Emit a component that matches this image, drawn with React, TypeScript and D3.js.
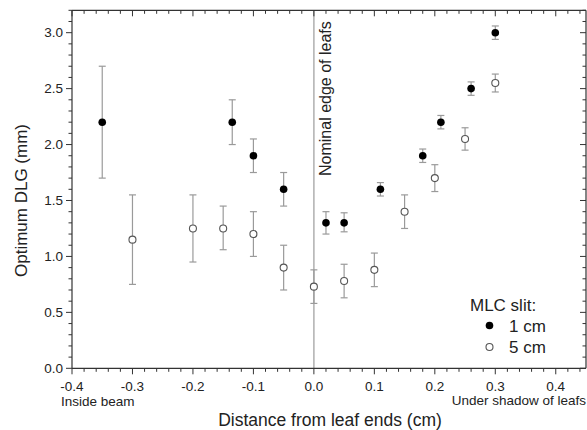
import React from "react";
import * as d3 from "d3";

const xSlit1 = [-0.35, -0.135, -0.1, -0.05, 0.02, 0.05, 0.11, 0.18, 0.21, 0.26, 0.3];
const ySlit1 = [2.2, 2.2, 1.9, 1.6, 1.3, 1.3, 1.6, 1.9, 2.2, 2.5, 3.0];
const loSlit1 = [1.7, 2.0, 1.75, 1.45, 1.2, 1.22, 1.54, 1.84, 2.14, 2.44, 2.94];
const hiSlit1 = [2.7, 2.4, 2.05, 1.75, 1.4, 1.39, 1.66, 1.96, 2.26, 2.56, 3.06];

const xSlit5 = [-0.3, -0.2, -0.15, -0.1, -0.05, 0.0, 0.05, 0.1, 0.15, 0.2, 0.25, 0.3];
const ySlit5 = [1.15, 1.25, 1.25, 1.2, 0.9, 0.73, 0.78, 0.88, 1.4, 1.7, 2.05, 2.55];
const loSlit5 = [0.75, 0.95, 1.06, 1.0, 0.7, 0.58, 0.63, 0.73, 1.25, 1.58, 1.95, 2.47];
const hiSlit5 = [1.55, 1.55, 1.45, 1.4, 1.1, 0.88, 0.93, 1.03, 1.55, 1.82, 2.15, 2.63];

const xTicks = [-0.4, -0.3, -0.2, -0.1, 0.0, 0.1, 0.2, 0.3, 0.4];
const yTicks = [0.0, 0.5, 1.0, 1.5, 2.0, 2.5, 3.0];
const legendLabels = ["1 cm", "5 cm"];

const W = 587;
const H = 430;
const FONT = "'Liberation Sans', Arial, Helvetica, sans-serif";

export default function App() {
  const x = d3.scaleLinear().domain([-0.4, 0.45]).range([72, 586]);
  const y = d3.scaleLinear().domain([0, 3.2]).range([368.3, 10.3]);
  const [x0, x1] = x.range();
  const [yb, yt] = y.range();

  const xMinor = d3.range(-0.4, 0.4501, 0.02).map((v) => Math.round(v * 100) / 100);
  const yMinor = d3.range(0, 3.2001, 0.1).map((v) => Math.round(v * 10) / 10);
  const isMajorX = (v: number) => Math.abs(v * 10 - Math.round(v * 10)) < 1e-6;
  const isMajorY = (v: number) => Math.abs(v * 2 - Math.round(v * 2)) < 1e-6;

  const errColor = "#9a9a9a";
  const axisColor = "#333";
  const cap = 3.5;
  const r = 3.8;

  const errBars = (xs: number[], lo: number[], hi: number[], key: string) =>
    xs.map((xv, i) => (
      <g key={key + i} stroke={errColor} strokeWidth={1.2}>
        <line x1={x(xv)} x2={x(xv)} y1={y(lo[i])} y2={y(hi[i])} />
        <line x1={x(xv) - cap} x2={x(xv) + cap} y1={y(lo[i])} y2={y(lo[i])} />
        <line x1={x(xv) - cap} x2={x(xv) + cap} y1={y(hi[i])} y2={y(hi[i])} />
      </g>
    ));

  return (
    <svg width={W} height={H} style={{ position: "absolute", left: 0, top: 0, background: "#fff" }}>
      <rect x={0} y={0} width={W} height={H} fill="#fff" />
      {/* nominal edge line */}
      <line x1={x(0)} x2={x(0)} y1={yb} y2={yt} stroke="#b4b4b4" strokeWidth={1.6} />
      <text
        transform={`translate(${x(0) + 17},${176}) rotate(-90)`}
        fontFamily={FONT}
        fontSize={16}
        fill="#222"
      >
        Nominal edge of leafs
      </text>

      {/* axes frame */}
      <g stroke={axisColor} strokeWidth={1.2} fill="none">
        <line x1={x0} x2={x1} y1={yb} y2={yb} />
        <line x1={x0} x2={x1} y1={yt} y2={yt} />
        <line x1={x0} x2={x0} y1={yb} y2={yt} />
        <line x1={x1} x2={x1} y1={yb} y2={yt} />
      </g>

      {/* ticks */}
      <g stroke={axisColor} strokeWidth={1}>
        {xMinor.map((v) => {
          const len = isMajorX(v) ? 6 : 3.5;
          return (
            <g key={"xt" + v}>
              <line x1={x(v)} x2={x(v)} y1={yb} y2={yb + len} />
              <line x1={x(v)} x2={x(v)} y1={yt} y2={yt + len} />
            </g>
          );
        })}
        {yMinor.map((v) => {
          const len = isMajorY(v) ? 6 : 3.5;
          return (
            <g key={"yt" + v}>
              <line x1={x0} x2={x0 - len} y1={y(v)} y2={y(v)} />
              <line x1={x1} x2={x1 - len} y1={y(v)} y2={y(v)} />
            </g>
          );
        })}
      </g>

      {/* tick labels */}
      <g fontFamily={FONT} fontSize={13.5} fill="#222">
        {xTicks.map((v) => (
          <text key={"xl" + v} x={x(v)} y={390.5} textAnchor="middle">
            {d3.format(".1f")(v).replace("−", "-")}
          </text>
        ))}
        {yTicks.map((v) => (
          <text key={"yl" + v} x={x0 - 9} y={y(v) + 4.8} textAnchor="end">
            {d3.format(".1f")(v)}
          </text>
        ))}
      </g>

      <text x={61} y={405.5} fontFamily={FONT} fontSize={13.5} fill="#222">
        Inside beam
      </text>
      <text x={586} y={404.5} fontFamily={FONT} fontSize={13.5} fill="#222" textAnchor="end">
        Under shadow of leafs
      </text>

      {/* axis titles */}
      <text x={330} y={426} fontFamily={FONT} fontSize={17.5} fill="#222" textAnchor="middle">
        Distance from leaf ends (cm)
      </text>
      <text
        transform={`translate(27,200.5) rotate(-90)`}
        fontFamily={FONT}
        fontSize={17}
        fill="#222"
        textAnchor="middle"
      >
        Optimum DLG (mm)
      </text>

      {/* error bars */}
      {errBars(xSlit1, loSlit1, hiSlit1, "e1")}
      {errBars(xSlit5, loSlit5, hiSlit5, "e5")}

      {/* markers */}
      {xSlit1.map((xv, i) => (
        <circle key={"p1" + i} cx={x(xv)} cy={y(ySlit1[i])} r={r} fill="#000" />
      ))}
      {xSlit5.map((xv, i) => (
        <circle
          key={"p5" + i}
          cx={x(xv)}
          cy={y(ySlit5[i])}
          r={r - 0.3}
          fill="#fff"
          stroke="#555"
          strokeWidth={1.1}
        />
      ))}

      {/* legend */}
      <g fontFamily={FONT} fill="#222">
        <text x={470} y={311} fontSize={17}>
          MLC slit:
        </text>
        <circle cx={489.5} cy={325.5} r={r} fill="#000" />
        <text x={509} y={331.5} fontSize={17}>
          {legendLabels[0]}
        </text>
        <circle cx={489.5} cy={347} r={r - 0.3} fill="#fff" stroke="#555" strokeWidth={1.1} />
        <text x={509} y={353} fontSize={17}>
          {legendLabels[1]}
        </text>
      </g>
    </svg>
  );
}
